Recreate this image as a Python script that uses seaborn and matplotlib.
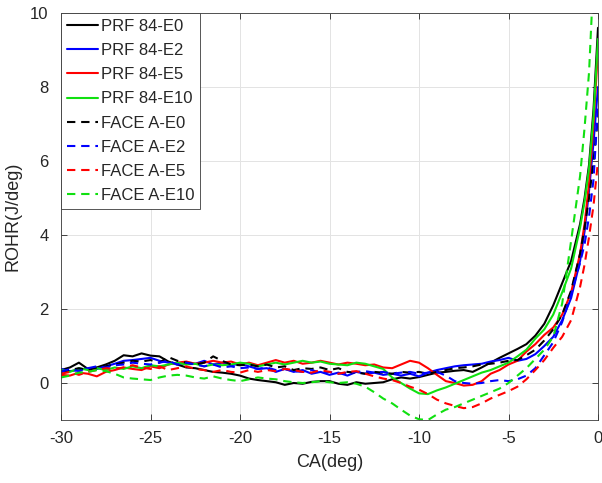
import numpy as np
import pandas as pd
import matplotlib
matplotlib.use("Agg")
import matplotlib.pyplot as plt
import seaborn as sns

# ---------------- data ----------------
ca = [-30.0, -29.5, -29.0, -28.5, -28.0, -27.5, -27.0, -26.5, -26.0, -25.5,
      -25.0, -24.5, -24.0, -23.5, -23.0, -22.5, -22.0, -21.5, -21.0, -20.5,
      -20.0, -19.5, -19.0, -18.5, -18.0, -17.5, -17.0, -16.5, -16.0, -15.5,
      -15.0, -14.5, -14.0, -13.5, -13.0, -12.5, -12.0, -11.5, -11.0, -10.5,
      -10.0, -9.5, -9.0, -8.5, -8.0, -7.5, -7.0, -6.5, -6.0, -5.5,
      -5.0, -4.5, -4.0, -3.5, -3.0, -2.5, -2.0, -1.5, -1.0, -0.75,
      -0.5, -0.25, 0.0]

prf_e0 = [0.35, 0.42, 0.55, 0.38, 0.42, 0.50, 0.60, 0.75, 0.72, 0.80,
          0.74, 0.72, 0.58, 0.50, 0.42, 0.40, 0.35, 0.30, 0.28, 0.25,
          0.20, 0.12, 0.08, 0.05, 0.02, -0.05, 0.00, -0.02, 0.03, 0.05,
          0.05, -0.02, -0.05, 0.02, -0.02, 0.00, 0.02, 0.10, 0.15, 0.12,
          0.16, 0.22, 0.28, 0.30, 0.33, 0.35, 0.30, 0.42, 0.55, 0.68,
          0.80, 0.92, 1.05, 1.28, 1.60, 2.10, 2.70, 3.30, 4.30, 5.00,
          5.90, 7.40, 9.60]

prf_e2 = [0.38, 0.32, 0.35, 0.40, 0.38, 0.45, 0.52, 0.60, 0.62, 0.65,
          0.68, 0.60, 0.55, 0.50, 0.55, 0.52, 0.60, 0.50, 0.55, 0.48,
          0.52, 0.45, 0.38, 0.40, 0.30, 0.38, 0.30, 0.35, 0.25, 0.30,
          0.22, 0.28, 0.20, 0.30, 0.25, 0.28, 0.22, 0.25, 0.20, 0.25,
          0.18, 0.28, 0.35, 0.40, 0.45, 0.48, 0.50, 0.52, 0.58, 0.62,
          0.68, 0.60, 0.65, 0.78, 1.00, 1.25, 1.70, 2.30, 3.30, 4.10,
          5.20, 6.50, 8.00]

prf_e5 = [0.22, 0.20, 0.28, 0.25, 0.18, 0.30, 0.35, 0.42, 0.38, 0.35,
          0.45, 0.40, 0.50, 0.55, 0.58, 0.52, 0.55, 0.60, 0.55, 0.58,
          0.50, 0.55, 0.48, 0.55, 0.62, 0.55, 0.60, 0.52, 0.55, 0.60,
          0.55, 0.50, 0.55, 0.52, 0.48, 0.50, 0.42, 0.40, 0.50, 0.60,
          0.55, 0.40, 0.22, 0.05, 0.00, -0.07, -0.05, 0.05, 0.25, 0.35,
          0.50, 0.60, 0.85, 1.05, 1.30, 1.50, 1.85, 2.45, 3.50, 4.30,
          5.40, 7.00, 9.00]

prf_e10 = [0.35, 0.30, 0.40, 0.35, 0.40, 0.35, 0.42, 0.38, 0.45, 0.40,
           0.48, 0.45, 0.50, 0.55, 0.50, 0.52, 0.45, 0.50, 0.48, 0.50,
           0.55, 0.52, 0.45, 0.50, 0.55, 0.50, 0.55, 0.60, 0.55, 0.58,
           0.52, 0.50, 0.48, 0.55, 0.52, 0.45, 0.38, 0.15, 0.00, -0.15,
           -0.28, -0.30, -0.20, -0.12, -0.02, 0.08, 0.18, 0.28, 0.35, 0.45,
           0.55, 0.72, 0.90, 1.20, 1.45, 1.85, 2.45, 3.10, 4.20, 4.90,
           5.80, 7.20, 9.30]

face_e0 = [0.30, 0.35, 0.40, 0.35, 0.42, 0.45, 0.50, 0.55, 0.60, 0.58,
           0.62, 0.55, 0.70, 0.60, 0.55, 0.50, 0.55, 0.72, 0.60, 0.50,
           0.48, 0.50, 0.45, 0.50, 0.42, 0.45, 0.35, 0.40, 0.38, 0.42,
           0.35, 0.40, 0.30, 0.28, 0.25, 0.30, 0.28, 0.25, 0.30, 0.28,
           0.30, 0.25, 0.30, 0.35, 0.40, 0.42, 0.45, 0.50, 0.52, 0.55,
           0.60, 0.62, 0.75, 0.90, 1.15, 1.45, 1.85, 2.50, 3.50, 4.20,
           5.00, 6.00, 7.20]

face_e2 = [0.30, 0.38, 0.32, 0.40, 0.45, 0.42, 0.48, 0.50, 0.55, 0.52,
           0.50, 0.55, 0.60, 0.50, 0.55, 0.50, 0.45, 0.50, 0.42, 0.45,
           0.40, 0.42, 0.38, 0.42, 0.35, 0.38, 0.32, 0.30, 0.35, 0.28,
           0.30, 0.25, 0.28, 0.30, 0.32, 0.28, 0.30, 0.25, 0.28, 0.30,
           0.25, 0.28, 0.30, 0.20, 0.05, 0.00, -0.02, 0.00, 0.05, 0.08,
           0.05, 0.10, 0.20, 0.40, 0.75, 1.10, 1.65, 2.40, 3.25, 3.75,
           4.50, 5.50, 7.50]

face_e5 = [0.25, 0.30, 0.22, 0.30, 0.35, 0.40, 0.38, 0.42, 0.48, 0.42,
           0.38, 0.45, 0.35, 0.40, 0.45, 0.38, 0.35, 0.30, 0.35, 0.30,
           0.28, 0.35, 0.30, 0.35, 0.32, 0.38, 0.35, 0.30, 0.28, 0.35,
           0.30, 0.25, 0.30, 0.32, 0.25, 0.18, 0.12, 0.08, 0.00, -0.10,
           -0.18, -0.30, -0.45, -0.55, -0.62, -0.68, -0.65, -0.55, -0.42, -0.32,
           -0.22, -0.10, 0.10, 0.35, 0.62, 0.95, 1.25, 1.70, 2.60, 3.20,
           3.95, 4.80, 6.00]

face_e10 = [0.15, 0.20, 0.28, 0.30, 0.35, 0.32, 0.25, 0.15, 0.12, 0.10,
            0.08, 0.15, 0.20, 0.22, 0.20, 0.15, 0.12, 0.18, 0.12, 0.08,
            0.05, 0.10, 0.15, 0.12, 0.10, 0.05, 0.02, 0.00, 0.02, 0.05,
            0.02, 0.00, 0.02, -0.02, -0.10, -0.25, -0.42, -0.55, -0.72, -0.88,
            -0.98, -1.00, -0.85, -0.72, -0.65, -0.55, -0.45, -0.35, -0.25, -0.15,
            0.00, 0.20, 0.40, 0.65, 0.90, 1.25, 2.15, 3.85, 5.60, 6.90,
            8.40, 11.00, 14.00]

labels = ["PRF 84-E0", "PRF 84-E2", "PRF 84-E5", "PRF 84-E10",
          "FACE A-E0", "FACE A-E2", "FACE A-E5", "FACE A-E10"]
series = [prf_e0, prf_e2, prf_e5, prf_e10, face_e0, face_e2, face_e5, face_e10]
colors = ["#000000", "#0000FF", "#FF0000", "#10E010",
          "#000000", "#0000FF", "#FF0000", "#10E010"]
x_ticks = [-30, -25, -20, -15, -10, -5, 0]
y_ticks = [0, 2, 4, 6, 8, 10]

df = pd.concat([pd.DataFrame({"CA": ca, "ROHR": s, "series": lab})
                for lab, s in zip(labels, series)], ignore_index=True)

# ---------------- style ----------------
sns.set_theme(style="whitegrid")
plt.rcParams["font.family"] = ["Liberation Sans", "DejaVu Sans"]
plt.rcParams["axes.unicode_minus"] = False
plt.rcParams["xtick.direction"] = "in"
plt.rcParams["ytick.direction"] = "in"

fig = plt.figure(figsize=(6.02, 4.83), dpi=100)
ax = fig.add_axes([61 / 602, 1 - 420 / 483, (598 - 61) / 602, (420 - 13) / 483])

palette = dict(zip(labels, colors))
dashes = {lab: ("" if lab.startswith("PRF") else (4.0, 2.8)) for lab in labels}

sns.lineplot(data=df, x="CA", y="ROHR", hue="series", style="series",
             hue_order=labels, style_order=labels, palette=palette,
             dashes=dashes, estimator=None, sort=False, linewidth=1.5, ax=ax)

ax.set_xlim(-30, 0)
ax.set_ylim(-1, 10)
ax.set_xticks(x_ticks)
ax.set_yticks(y_ticks)
ax.tick_params(axis="both", which="both", labelsize=12, colors="#262626",
               length=4, width=0.6, top=True, right=True, bottom=True, left=True,
               labelcolor="#262626")
ax.tick_params(axis="x", pad=8)
ax.tick_params(axis="y", pad=9)
ax.grid(True, color="#e3e3e3", linewidth=0.7)
for sp in ax.spines.values():
    sp.set_color("#3a3a3a")
    sp.set_linewidth(0.6)
ax.set_xlabel("CA(deg)", fontsize=13, color="#262626", labelpad=6)
ax.set_ylabel("ROHR(J/deg)", fontsize=13, color="#262626", labelpad=6)

leg = ax.legend(loc="upper left", bbox_to_anchor=(0, 1), borderaxespad=0,
                fontsize=12, frameon=True, fancybox=False, framealpha=1,
                handlelength=1.9, handletextpad=0.15, labelspacing=0.55,
                borderpad=0.35, title=None)
leg.get_frame().set_edgecolor("#3a3a3a")
leg.get_frame().set_linewidth(0.6)
for line in leg.get_lines():
    line.set_linewidth(1.5)

fig.savefig("out.png", dpi=100)
